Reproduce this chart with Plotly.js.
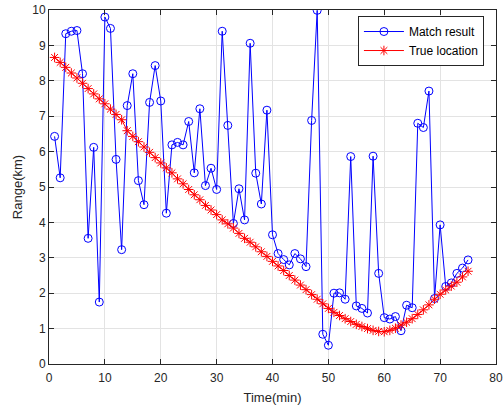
<!DOCTYPE html>
<html>
<head>
<meta charset="utf-8">
<script src="https://cdn.plot.ly/plotly-3.0.1.min.js"></script>
<style>
html,body{margin:0;padding:0;background:#fff;}
#chart{width:503px;height:409px;}
</style>
</head>
<body>
<div id="chart"></div>
<script>
const timeMin = [1,2,3,4,5,6,7,8,9,10,11,12,13,14,15,16,17,18,19,20,21,22,23,24,25,26,27,28,29,30,31,32,33,34,35,36,37,38,39,40,41,42,43,44,45,46,47,48,49,50,51,52,53,54,55,56,57,58,59,60,61,62,63,64,65,66,67,68,69,70,71,72,73,74,75];

const matchResult = [6.43,5.26,9.33,9.40,9.42,8.20,3.55,6.12,1.75,9.80,9.48,5.78,3.23,7.30,8.20,5.18,4.50,7.39,8.43,7.43,4.26,6.19,6.26,6.19,6.85,5.40,7.21,5.04,5.53,4.93,9.40,6.74,3.97,4.95,4.07,9.06,5.39,4.52,7.17,3.65,3.12,2.95,2.80,3.12,2.97,2.75,6.88,9.99,0.84,0.53,2.00,2.01,1.83,5.86,1.64,1.57,1.44,5.87,2.56,1.31,1.27,1.34,0.94,1.66,1.59,6.80,6.68,7.71,1.85,3.93,2.19,2.29,2.56,2.71,2.94];

const trueLocation = [8.66,8.52,8.38,8.22,8.08,7.93,7.78,7.63,7.49,7.35,7.20,7.05,6.90,6.59,6.43,6.28,6.13,5.98,5.83,5.68,5.54,5.40,5.23,5.09,4.93,4.78,4.64,4.48,4.35,4.22,4.07,3.96,3.84,3.69,3.55,3.44,3.31,3.17,3.04,2.90,2.77,2.64,2.50,2.37,2.23,2.10,1.96,1.83,1.70,1.57,1.46,1.37,1.28,1.20,1.12,1.06,1.00,0.95,0.92,0.91,0.95,1.01,1.10,1.18,1.28,1.40,1.53,1.67,1.83,1.97,2.09,2.20,2.31,2.46,2.62];

const xTicks = [0,10,20,30,40,50,60,70,80];
const yTicks = [0,1,2,3,4,5,6,7,8,9,10];

const FONT = '"Liberation Sans", Arial, Helvetica, sans-serif';

const traces = [
  {
    x: timeMin, y: matchResult, name: 'Match result', type: 'scatter', mode: 'lines+markers',
    line: {color: '#0000ff', width: 1},
    marker: {symbol: 'circle-open', size: 8, color: '#0000ff', line: {width: 1, color: '#0000ff'}}
  },
  {
    x: timeMin, y: trueLocation, name: 'True location', type: 'scatter', mode: 'lines+markers',
    line: {color: '#ff0000', width: 1},
    marker: {symbol: 'asterisk-open', size: 8, color: '#ff0000', line: {width: 1, color: '#ff0000'}}
  }
];

const axisCommon = {
  showgrid: true, gridcolor: '#e3e3e3', gridwidth: 1,
  showline: true, linecolor: '#262626', linewidth: 1, mirror: 'ticks',
  ticks: 'inside', ticklen: 5, tickcolor: '#262626', tickwidth: 1,
  zeroline: false,
  tickfont: {family: FONT, size: 12, color: '#262626'}
};

const layout = {
  width: 503, height: 409,
  margin: {l: 49, r: 7, t: 10, b: 45},
  paper_bgcolor: '#ffffff', plot_bgcolor: '#ffffff',
  showlegend: true,
  xaxis: Object.assign({}, axisCommon, {
    range: [0, 80], tickvals: xTicks, ticktext: xTicks.map(String),
    ticklabelstandoff: 3,
    title: {text: 'Time(min)', font: {family: FONT, size: 13, color: '#262626'}, standoff: 8}
  }),
  yaxis: Object.assign({}, axisCommon, {
    range: [0, 10], tickvals: yTicks, ticktext: yTicks.map(String),
    title: {text: 'Range(km)', font: {family: FONT, size: 13, color: '#262626'}, standoff: 6}
  }),
  legend: {
    x: 0.973, y: 0.983, xanchor: 'right', yanchor: 'top',
    bgcolor: '#ffffff', bordercolor: '#262626', borderwidth: 1,
    font: {family: FONT, size: 12, color: '#000000'},
    tracegroupgap: 0, itemwidth: 40
  }
};

Plotly.newPlot('chart', traces, layout, {displayModeBar: false, staticPlot: true});
</script>
</body>
</html>
